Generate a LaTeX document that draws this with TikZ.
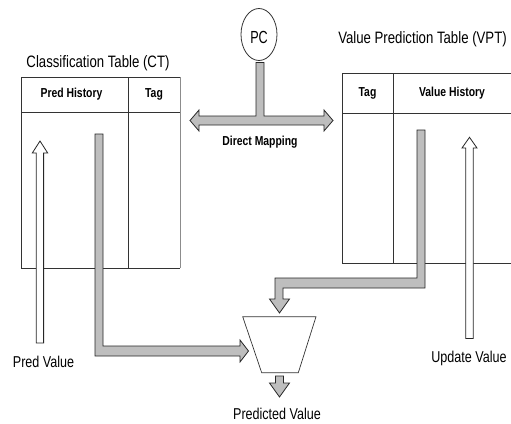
\documentclass[tikz,border=0pt]{standalone}
\usepackage{fontspec}
\usetikzlibrary{shapes.geometric}
\setmainfont{Liberation Sans}[FakeStretch=0.8]
\newfontfamily\pcfont{Liberation Sans}[FakeStretch=0.72]
\definecolor{arrowgray}{HTML}{BEBEBE}
\definecolor{linegray}{HTML}{333333}
\begin{document}
\begin{tikzpicture}[x=1pt,y=-1pt,line join=miter]
\tikzset{
  tline/.style={draw=linegray,line width=0.8pt},
  tlight/.style={draw=black!45,line width=0.8pt},
  fatarrow/.style={fill=arrowgray,draw=black!85,line width=0.8pt},
  hollow/.style={fill=white,draw=black!85,line width=0.8pt},
  titletext/.style={font=\fontsize{16.5}{18}\selectfont,inner sep=0pt},
  lbl/.style={font=\fontsize{15.7}{18}\selectfont,inner sep=0pt},
  hdr/.style={font=\bfseries\fontsize{13}{15}\selectfont,inner sep=0pt},
}
\useasboundingbox (0,0) rectangle (511,423);

% Classification table
\draw[tline] (180,77) -- (21,77) -- (21,268) -- (180,268);
\draw[tlight] (180,77) -- (180,268);
\draw[tline] (21,112) -- (180,112);
\draw[tline] (128,77) -- (128,268);
\node[titletext] (cttitle) at (98,63) {Classification Table (CT)};
\node[hdr] (predhist) at (71.5,94.5) {Pred History};
\node[hdr] (cttag) at (154,94.5) {Tag};

% Value prediction table
\draw[tline] (512,73) -- (342,73) -- (342,263) -- (512,263);
\draw[tline] (342,113) -- (512,113);
\draw[tline] (393,73) -- (393,263);
\node[titletext] (vpttitle) at (422.5,39.5) {Value Prediction Table (VPT)};
\node[hdr] (vpttag) at (367.5,93.5) {Tag};
\node[hdr] (valhist) at (452,93.5) {Value History};

% PC
\node[draw=linegray,line width=0.8pt,ellipse,minimum width=36pt,minimum height=52pt,inner sep=0pt] (pc) at (259,34.5) {};
\node[font=\pcfont\fontsize{17.5}{19}\selectfont,inner sep=0pt] (pctext) at (259,37) {PC};

% PC T-shaped double arrow
\draw[fatarrow] (190,120.5) -- (199,110) -- (199,116) -- (256,116) -- (256,62.5)
  -- (264,62.5) -- (264,116) -- (324,116) -- (324,110) -- (333,120.5)
  -- (324,131) -- (324,125) -- (199,125) -- (199,131) -- cycle;
\node[hdr] (dm) at (260,142) {Direct Mapping};

% CT gray bar into selector
\draw[fatarrow] (95,134) -- (103,134) -- (103,346) -- (240,346) -- (240,340)
  -- (248.5,351) -- (240,362) -- (240,356) -- (95,356) -- cycle;

% VPT gray bar into selector
\draw[fatarrow] (417,130) -- (425,130) -- (425,288) -- (283,288) -- (283,299)
  -- (289.5,299) -- (279.5,313) -- (269.5,299) -- (275,299) -- (275,278)
  -- (417,278) -- cycle;

% selector (trapezoid)
\draw[draw=linegray,line width=0.7pt] (242.7,316.7) -- (316,316.7) -- (298.3,372.7) -- (261.7,372.7) -- cycle;
\coordinate (selout) at (279.5,376);

% output arrow
\draw[fatarrow] (275.5,376) -- (283.5,376) -- (283.5,383) -- (289.5,383)
  -- (279.5,397) -- (269.5,383) -- (275.5,383) -- cycle;
\node[lbl] (predval) at (277,414) {Predicted Value};

% hollow arrows
\draw[hollow] (36.2,343) -- (36.2,153) -- (32.3,153) -- (40,141) -- (47.7,153)
  -- (43.6,153) -- (43.6,343) -- cycle;
\node[lbl] (pv) at (43.5,362) {Pred Value};

\draw[hollow] (465.8,338.5) -- (465.8,148) -- (462,148) -- (469.5,137.3) -- (477,148)
  -- (473.3,148) -- (473.3,338.5) -- cycle;
\node[lbl] (uv) at (469,358) {Update Value};
\end{tikzpicture}
\end{document}
